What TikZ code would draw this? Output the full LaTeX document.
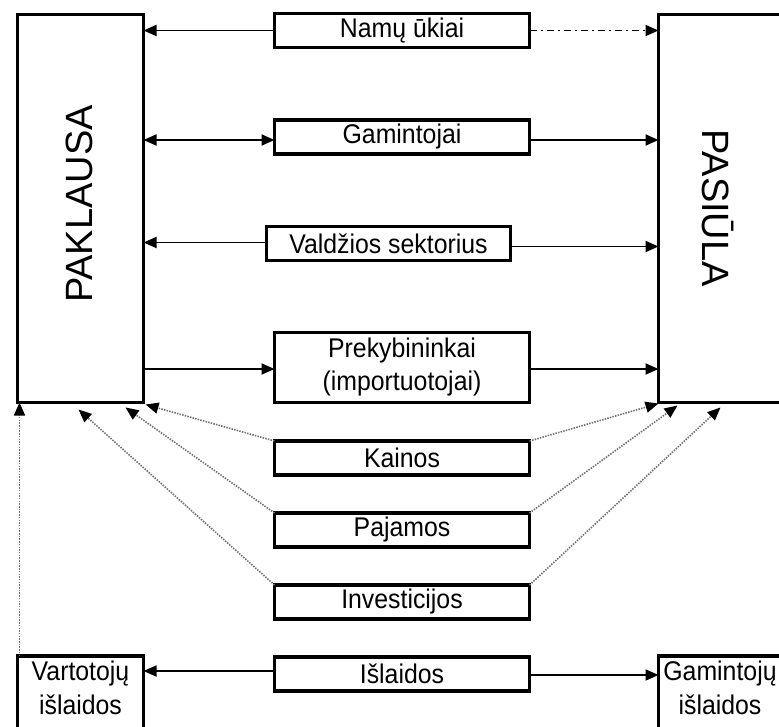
\documentclass[tikz,border=0pt]{standalone}
\usepackage{fontspec}
\setmainfont{Liberation Sans}
\newfontfamily\boxfont{Liberation Sans}[FakeStretch=0.92]
\usetikzlibrary{arrows.meta,calc}
\begin{document}
\begin{tikzpicture}[x=1pt,y=-1pt,
  frame/.style={draw,line width=3.4pt,inner sep=0pt,outer sep=0pt},
  box/.style={frame,minimum width=255pt,minimum height=34pt,font=\boxfont\fontsize{27}{33}\selectfont,align=center},
  big/.style={font=\fontsize{38}{40}\selectfont,inner sep=0pt},
  txt/.style={font=\boxfont\fontsize{27}{34}\selectfont,align=center,inner sep=0pt},
  tip/.style={-{Triangle[length=13pt,width=11pt,color=black]}},
  conn/.style={tip,line width=1.8pt},
  both/.style={line width=1.8pt,{Triangle[length=13pt,width=11pt]}-{Triangle[length=13pt,width=11pt]}},
  dotconn/.style={tip,line width=1.6pt,color=black!55,dash pattern=on 1.5pt off 1.2pt},
  dashdotconn/.style={tip,line width=1.6pt,dash pattern=on 7pt off 4pt on 2pt off 4pt}]
\fill[white] (0,0) rectangle (779,727);
\clip (0,0) rectangle (779,727);
% big boxes
\node[frame,minimum width=126pt,minimum height=388pt] (pak) at (80.5,208.5) {};
\node[big,rotate=90] (paktxt) at (79,204) {PAKLAUSA};
\node[frame,minimum width=163pt,minimum height=388pt] (pas) at (740,208.5) {};
\node[big,rotate=-90] (pastxt) at (718,208) {PASIŪLA};
% middle boxes
\node[box] (namu) at (402,30.5) {Namų ūkiai};
\node[box] (gam) at (402,137) {Gamintojai};
\node[box,minimum width=244pt] (val) at (388.5,243.5) {Valdžios sektorius};
\node[box,minimum height=70pt] (prek) at (402,367.5) {Prekybininkai\\(importuotojai)};
\node[box] (kain) at (402,458) {Kainos};
\node[box] (paj) at (402,530) {Pajamos};
\node[box] (inv) at (402,602) {Investicijos};
\node[box] (isl) at (402,674) {Išlaidos};
% bottom boxes
\node[frame,minimum width=126pt,minimum height=100pt] (vart) at (80.5,706) {};
\node[txt] (varttxt) at (80.5,688) {Vartotojų\\išlaidos};
\node[frame,minimum width=163pt,minimum height=100pt] (gamis) at (740,706) {};
\node[txt] (gamistxt) at (720,688) {Gamintojų\\išlaidos};
% solid connectors
\draw[conn] (namu.west) -- (namu.west -| pak.east);
\draw[dashdotconn] (namu.east) -- (namu.east -| pas.west);
\coordinate (gl) at ($(gam.west)+(0,3)$);
\coordinate (gr) at ($(gam.east)+(0,3)$);
\draw[both] (gl -| pak.east) -- (gl);
\draw[conn] (gr) -- (gr -| pas.west);
\coordinate (vl) at ($(val.west)+(0,-1)$);
\coordinate (vr) at ($(val.east)+(0,3)$);
\draw[conn] (vl) -- (vl -| pak.east);
\draw[conn] (vr) -- (vr -| pas.west);
\coordinate (pl) at ($(prek.west)+(0,1.5)$);
\coordinate (pr) at ($(prek.east)+(0,1.5)$);
\draw[conn] (pl -| pak.east) -- (pl);
\draw[conn] (pr) -- (pr -| pas.west);
\coordinate (il) at ($(isl.west)+(0,-3)$);
\coordinate (ir) at ($(isl.east)+(0,1)$);
\draw[conn] (il) -- (il -| vart.east);
\draw[conn] (ir) -- (ir -| gamis.west);
% dotted connectors
\draw[dotconn] (kain.north west) -- ($(pak.south east)+(2,2)$);
\draw[dotconn] (paj.north west) -- ($(pak.south east)+(-18,5)$);
\draw[dotconn] (inv.north west) -- ($(pak.south)+(-2,7)$);
\draw[dotconn] (kain.north east) -- ($(pas.south west)+(0,1)$);
\draw[dotconn] (paj.north east) -- ($(pas.south west)+(19,3)$);
\draw[dotconn] (inv.north east) -- ($(pas.south west)+(62,5)$);
\draw[dotconn] ($(vart.north west)+(2,0)$) -- ($(pak.south west)+(2,0)$);
\end{tikzpicture}
\end{document}
